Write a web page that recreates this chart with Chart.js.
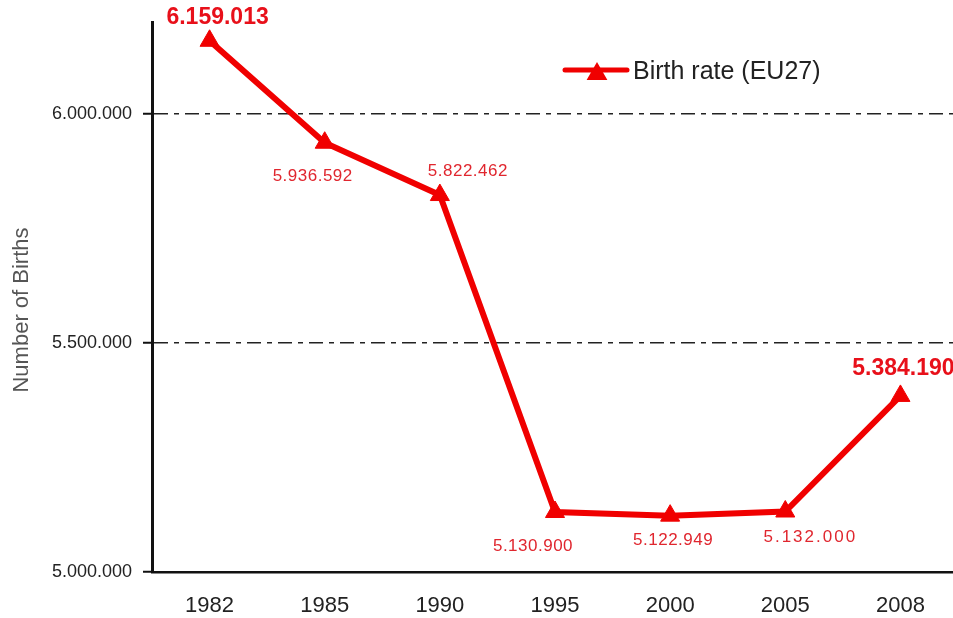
<!DOCTYPE html>
<html>
<head>
<meta charset="utf-8">
<script src="https://cdn.jsdelivr.net/npm/chart.js@4.4.1/dist/chart.umd.min.js"></script>
<style>
  html, body { margin: 0; padding: 0; background: #fff; overflow: hidden; }
  #wrap { width: 958px; height: 618px; }
</style>
</head>
<body>
<div id="wrap"><canvas id="c" width="958" height="618"></canvas></div>
<script>
// ---- data ----
const categories = ['1982', '1985', '1990', '1995', '2000', '2005', '2008'];
const births = [6159013, 5936592, 5822462, 5130900, 5122949, 5132000, 5384190];
const yTicks = [5000000, 5500000, 6000000];
const seriesLabel = 'Birth rate (EU27)';
const yTitle = 'Number of Births';

// ---- styling (not data) ----
const RED = '#f00000';
const FONT = "'Liberation Sans', Arial, Helvetica, sans-serif";
const labelStyles = [
  { dx: 8,   dy: -23, size: 23, bold: true,  spacing: 0 },
  { dx: -12, dy: 34,  size: 17, bold: false, spacing: 0.5 },
  { dx: 28,  dy: -24, size: 17, bold: false, spacing: 0.5 },
  { dx: -22, dy: 34,  size: 17, bold: false, spacing: 0.5 },
  { dx: 3,   dy: 25,  size: 17, bold: false, spacing: 0.5 },
  { dx: 25,  dy: 26,  size: 17, bold: false, spacing: 2 },
  { dx: 3,   dy: -27, size: 23, bold: true,  spacing: 0 }
];

function fmt(v) {
  return String(Math.round(v)).replace(/\B(?=(\d{3})+(?!\d))/g, '.');
}

const valueLabels = {
  id: 'valueLabels',
  afterDatasetsDraw(chart) {
    const ctx = chart.ctx;
    const meta = chart.getDatasetMeta(0);
    ctx.save();
    ctx.textAlign = 'center';
    ctx.textBaseline = 'middle';
    meta.data.forEach((pt, i) => {
      const s = labelStyles[i];
      ctx.font = (s.bold ? 'bold ' : '') + s.size + 'px ' + FONT;
      ctx.fillStyle = s.bold ? '#e8101a' : '#e0262e';
      if ('letterSpacing' in ctx) ctx.letterSpacing = s.spacing + 'px';
      ctx.fillText(fmt(births[i]), pt.x + s.dx, pt.y + s.dy);
    });
    ctx.restore();
  }
};

const customLegend = {
  id: 'customLegend',
  afterDraw(chart) {
    const ctx = chart.ctx;
    const ds = chart.data.datasets[0];
    ctx.save();
    ctx.strokeStyle = ds.borderColor;
    ctx.lineWidth = 5;
    ctx.lineCap = 'round';
    ctx.beginPath();
    ctx.moveTo(565, 70);
    ctx.lineTo(627, 70);
    ctx.stroke();
    const cx = 597, cy = 74, r = 12;
    ctx.fillStyle = ds.pointBackgroundColor;
    ctx.beginPath();
    for (let k = 0; k < 3; k++) {
      const a = k * 2 * Math.PI / 3;
      const px = cx + Math.sin(a) * r, py = cy - Math.cos(a) * r;
      if (k === 0) ctx.moveTo(px, py); else ctx.lineTo(px, py);
    }
    ctx.closePath();
    ctx.fill();
    ctx.font = '25px ' + FONT;
    ctx.fillStyle = '#222';
    ctx.textAlign = 'left';
    ctx.textBaseline = 'middle';
    ctx.fillText(ds.label, 633, 72);
    ctx.restore();
  }
};

const yAxisTitle = {
  id: 'yAxisTitle',
  afterDraw(chart) {
    const ctx = chart.ctx;
    ctx.save();
    ctx.translate(22, 310);
    ctx.rotate(-Math.PI / 2);
    ctx.font = '22px ' + FONT;
    ctx.fillStyle = '#555';
    ctx.textAlign = 'center';
    ctx.textBaseline = 'middle';
    ctx.fillText(yTitle, 0, 0);
    ctx.restore();
  }
};

new Chart(document.getElementById('c'), {
  type: 'line',
  data: {
    labels: categories,
    datasets: [{
      label: seriesLabel,
      data: births,
      borderColor: RED,
      backgroundColor: RED,
      borderWidth: 6,
      tension: 0,
      pointStyle: 'triangle',
      pointRadius: 11,
      pointHoverRadius: 11,
      pointBackgroundColor: RED,
      pointBorderColor: RED,
      pointBorderWidth: 1,
      fill: false
    }]
  },
  options: {
    responsive: false,
    animation: false,
    devicePixelRatio: 1,
    layout: { autoPadding: false, padding: { top: 22, left: 0, right: 0, bottom: 0 } },
    plugins: {
      legend: { display: false },
      tooltip: { enabled: false }
    },
    scales: {
      x: {
        type: 'category',
        offset: true,
        grid: { display: false, drawTicks: true, tickLength: 21, tickColor: 'rgba(0,0,0,0)' },
        border: { display: true, color: '#111', width: 2.5 },
        ticks: {
          color: '#222',
          font: { family: FONT, size: 22 },
          padding: 0,
          maxRotation: 0
        },
        afterFit(scale) {
          scale.height = 46;
          scale.paddingLeft = 0;
          scale.paddingRight = 0;
        }
      },
      y: {
        min: 5000000,
        max: 6200000,
        afterBuildTicks(scale) { scale.ticks = yTicks.map(v => ({ value: v })); },
        grid: {
          color: (c) => (c.tick && c.tick.value === yTicks[0]) ? 'rgba(0,0,0,0)' : '#222',
          lineWidth: 1.5,
          drawTicks: true,
          tickLength: 9,
          tickColor: '#111',
          tickWidth: 2,
          tickBorderDash: []
        },
        border: { display: true, color: '#111', width: 3, dash: [14, 6, 5, 6] },
        ticks: {
          color: '#222',
          font: { family: FONT, size: 18 },
          padding: 11,
          callback: (v) => fmt(v)
        },
        title: { display: false },
        afterFit(scale) { scale.width = 152; }
      }
    }
  },
  plugins: [valueLabels, customLegend, yAxisTitle]
});
</script>
</body>
</html>
